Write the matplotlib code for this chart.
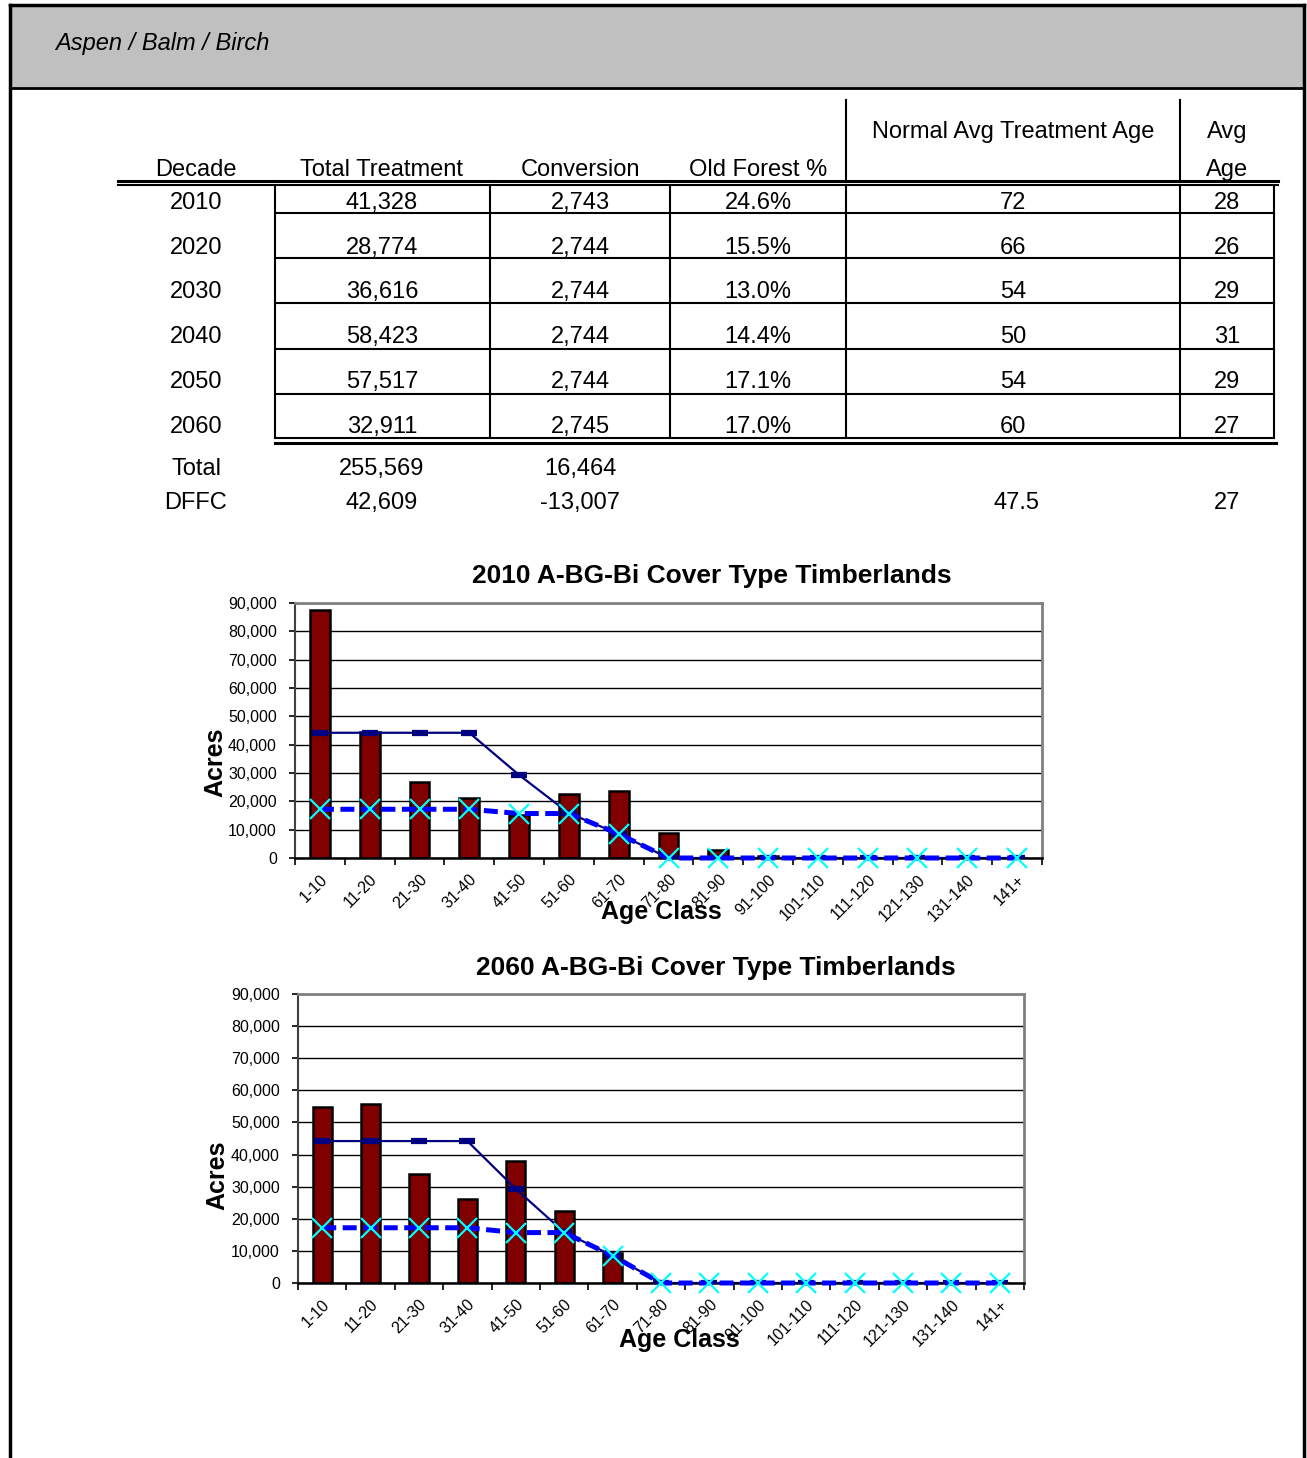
import numpy as np
import matplotlib
matplotlib.use("Agg")
import matplotlib.pyplot as plt
from matplotlib.ticker import FuncFormatter, FixedLocator

plt.rcParams['font.family'] = ['Liberation Sans', 'DejaVu Sans']

# table data
decades = ['2010', '2020', '2030', '2040', '2050', '2060']
total_treatment = [41328, 28774, 36616, 58423, 57517, 32911]
conversion = [2743, 2744, 2744, 2744, 2744, 2745]
old_forest_pct = [24.6, 15.5, 13.0, 14.4, 17.1, 17.0]
normal_avg_age = [72, 66, 54, 50, 54, 60]
avg_age = [28, 26, 29, 31, 29, 27]
total_row = ['Total', '255,569', '16,464', '', '', '']
dffc_row = ['DFFC', '42,609', '-13,007', '', '47.5', '27']

# chart data
age_classes = ['1-10', '11-20', '21-30', '31-40', '41-50', '51-60', '61-70', '71-80',
               '81-90', '91-100', '101-110', '111-120', '121-130', '131-140', '141+']
acres_2010 = [87400, 44300, 27000, 21100, 15200, 22500, 23700, 8800,
              2800, 800, 0, 0, 0, 0, 0]
acres_2060 = [54900, 55800, 34000, 26100, 38000, 22400, 9200, 0,
              0, 0, 0, 0, 0, 0, 0]
normal_curve = [44200, 44200, 44200, 44200, 29300, 15800, 8500, 0,
                0, 0, 0, 0, 0, 0, 0]
dffc_curve = [17200, 17200, 17200, 17200, 15700, 15700, 8500, 0,
              0, 0, 0, 0, 0, 0, 0]

W, H = 1307, 1458
fig = plt.figure(figsize=(W / 100, H / 100), dpi=100)

# page overlay in pixel coordinates
pg = fig.add_axes([0, 0, 1, 1])
pg.set_xlim(0, W)
pg.set_ylim(H, 0)
pg.axis('off')

# header band and frame
pg.add_patch(plt.Rectangle((10, 5), 1294, 83, facecolor='#c0c0c0', edgecolor='none'))
pg.plot([10, 1304], [5, 5], color='black', lw=2.5)
pg.plot([10, 1304], [88, 88], color='black', lw=2)
pg.plot([10, 10], [5, H], color='black', lw=2.5)
pg.plot([1304, 1304], [5, H], color='black', lw=2.5)
pg.text(55, 43, 'Aspen / Balm / Birch', fontsize=17, style='italic', va='center', ha='left')

# table
col_x = [196, 382, 580, 758, 1013, 1227]
fs = 17
pg.text(col_x[0], 176, 'Decade', fontsize=fs, ha='center', va='baseline')
pg.text(col_x[1], 176, 'Total Treatment', fontsize=fs, ha='center', va='baseline')
pg.text(col_x[2], 176, 'Conversion', fontsize=fs, ha='center', va='baseline')
pg.text(col_x[3], 176, 'Old Forest %', fontsize=fs, ha='center', va='baseline')
pg.text(col_x[4], 138, 'Normal Avg Treatment Age', fontsize=fs, ha='center', va='baseline')
pg.text(col_x[5], 138, 'Avg', fontsize=fs, ha='center', va='baseline')
pg.text(col_x[5], 176, 'Age', fontsize=fs, ha='center', va='baseline')

for vx in [846, 1180]:
    pg.plot([vx, vx], [100, 182], color='black', lw=1.5)
pg.plot([118, 1278], [181, 181], color='black', lw=2.2)
pg.plot([118, 1278], [185, 185], color='black', lw=1.5)

for vx in [275, 490, 670, 846, 1180, 1274]:
    pg.plot([vx, vx], [185, 438], color='black', lw=1.5)
for hy in [213, 258, 303, 349, 394]:
    pg.plot([275, 1274], [hy, hy], color='black', lw=1.5)
pg.plot([275, 1274], [438, 438], color='black', lw=1.5)
pg.plot([275, 1276], [443, 443], color='black', lw=2.2)

row_base = [209, 254, 298, 343, 388, 433]
for i, d in enumerate(decades):
    vals = [d, f'{total_treatment[i]:,}', f'{conversion[i]:,}', f'{old_forest_pct[i]:.1f}%',
            str(normal_avg_age[i]), str(avg_age[i])]
    for cx, v in zip(col_x, vals):
        pg.text(cx, row_base[i], v, fontsize=fs, ha='center', va='baseline')
for yb, row in [(475, total_row), (509, dffc_row)]:
    for j, (cx, v) in enumerate(zip(col_x, row)):
        if j == 4:
            cx = 1016
        pg.text(cx, yb, v, fontsize=fs, ha='center', va='baseline')


def draw_chart(box, bars, title, title_xy, xlabel_xy, ylabel_xy):
    left, top, right, bottom = box
    ax = fig.add_axes([left / W, 1 - bottom / H, (right - left) / W, (bottom - top) / H])
    x = np.arange(len(age_classes))
    ax.bar(x, bars, width=0.4, color='#800000', edgecolor='black', linewidth=1.8, zorder=2)
    ax.plot(x, normal_curve, color='#000080', lw=1.6, marker='_', ms=11, mew=4.5, zorder=3)
    ax.plot(x, dffc_curve, color='#0000ff', lw=3.6, dashes=(2.8, 1.3), marker='x',
            ms=14, mec='#00ffff', mew=1.6, zorder=4, clip_on=False)
    ax.set_xlim(-0.5, len(age_classes) - 0.5)
    ax.set_ylim(0, 90000)
    ax.set_yticks(range(0, 90001, 10000))
    ax.yaxis.set_major_formatter(FuncFormatter(lambda v, p: f'{int(v):,}'))
    ax.grid(axis='y', color='black', lw=1)
    ax.set_axisbelow(True)
    ax.set_xticks(x)
    ax.set_xticklabels(age_classes, rotation=45, ha='right', rotation_mode='anchor', fontsize=11.5)
    ax.xaxis.set_minor_locator(FixedLocator(np.arange(-0.5, len(age_classes), 1)))
    ax.tick_params(axis='x', which='major', length=0, pad=10)
    ax.tick_params(axis='x', which='minor', length=5, width=1.2, direction='out')
    ax.tick_params(axis='y', length=4, width=1.2, labelsize=11.5, pad=9)
    for s in ['top', 'right']:
        ax.spines[s].set_color('#808080')
        ax.spines[s].set_linewidth(2)
    ax.spines['left'].set_color('#404040')
    ax.spines['left'].set_linewidth(1.5)
    ax.spines['bottom'].set_color('black')
    ax.spines['bottom'].set_linewidth(1.8)
    pg.text(title_xy[0], title_xy[1], title, fontsize=19, fontweight='bold', ha='center', va='center')
    pg.text(xlabel_xy[0], xlabel_xy[1], 'Age Class', fontsize=18, fontweight='bold',
            ha='center', va='center', zorder=10)
    pg.text(ylabel_xy[0], ylabel_xy[1], 'Acres', fontsize=18, fontweight='bold',
            ha='center', va='center', rotation=90)
    return ax


ax1 = draw_chart((295, 603, 1042, 858), acres_2010, '2010 A-BG-Bi Cover Type Timberlands',
                 (712, 576), (661, 912), (215, 762))
ax2 = draw_chart((298, 994, 1024, 1283), acres_2060, '2060 A-BG-Bi Cover Type Timberlands',
                 (716, 968), (679, 1340), (217, 1175))

# keep overlay text above the chart axes
pg.set_zorder(5)
pg.patch.set_alpha(0)

fig.savefig('out.png', dpi=100)
